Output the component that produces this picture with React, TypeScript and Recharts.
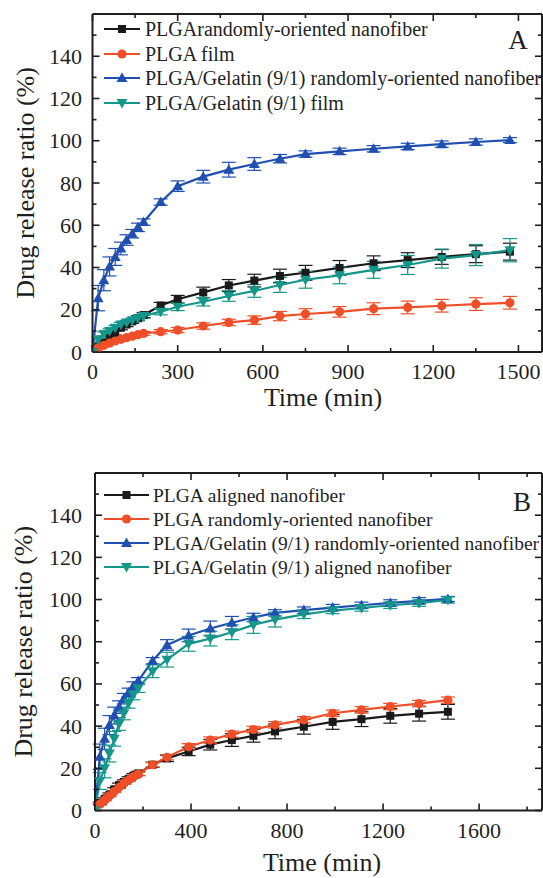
import React from 'react';
import { LineChart, Line, XAxis, YAxis, ErrorBar, Legend } from 'recharts';

const FONT = "'Liberation Serif', 'Times New Roman', serif";
const INK = '#1f1f1f';

// sampling times (min), shared by every curve
const times = [0, 20, 40, 60, 80, 100, 120, 140, 160, 180, 240, 300, 390, 480, 570, 660, 750, 870, 990, 1110, 1230, 1350, 1470];

// Panel A
const aPlgaFiber = [0, 2.5, 4.5, 7, 9, 11.5, 13, 14.5, 16, 17.5, 22, 25, 28.2, 31.5, 33.8, 36, 37.5, 39.8, 42, 43.5, 45, 46.3, 47.5];
const aPlgaFiberErr = [0, 0.5, 0.8, 1, 1, 1, 1, 1, 1.2, 1.2, 1.5, 1.8, 2.5, 2.8, 3, 3.2, 3.5, 3.5, 3.5, 3.5, 3.5, 4, 4];
const aPlgaFilm = [0, 2, 3.2, 4.2, 5.2, 6, 6.8, 7.5, 8.2, 8.8, 9.6, 10.4, 12.3, 14, 15.1, 17, 18, 19, 20.5, 21.1, 21.9, 22.7, 23.3];
const aPlgaFilmErr = [0, 0.5, 0.5, 0.6, 0.6, 0.7, 0.7, 0.8, 0.8, 0.9, 1, 1.2, 1.5, 1.5, 2, 2.2, 2.5, 2.5, 2.8, 3, 3, 3, 3];
const gelFiber = [0, 25.5, 34, 40.5, 45, 49, 53, 56, 59, 61.5, 71, 78.5, 83, 86.3, 89, 91.5, 93.7, 95, 96.2, 97.3, 98.4, 99.4, 100.3];
const gelFiberErr = [0, 6, 5, 4.5, 4, 3, 2.5, 2, 2, 1.5, 1.5, 2.5, 3, 3.5, 3, 2, 1.5, 1.5, 1.5, 1.5, 1.5, 1.5, 1.2];
const aGelFilm = [0, 6, 8.5, 10, 11.5, 13, 14, 15, 16, 17, 19.1, 21.4, 23.8, 26.5, 28.9, 31.7, 34.2, 36.3, 38.9, 41.2, 44.2, 45.9, 48.2];
const aGelFilmErr = [0, 1, 1, 1, 1, 1, 1, 1, 1, 1, 1.5, 1.8, 2, 2.5, 3, 3.5, 4, 4, 4, 4.5, 4.5, 5, 5.5];

// Panel B
const bPlgaAligned = [0, 3.5, 5.5, 7.5, 10, 12, 13.5, 15, 16.5, 17.6, 21.7, 24.7, 28, 31.2, 33.4, 35.4, 37.5, 39.7, 42, 43.3, 44.9, 45.9, 46.8];
const bPlgaAlignedErr = [0, 0.5, 0.5, 0.8, 0.8, 1, 1, 1, 1, 1, 1.2, 1.5, 2, 2.5, 3, 3, 3.5, 3.5, 3.5, 3.5, 3.5, 3.5, 3.5];
const bPlgaRandom = [0, 3, 5, 7, 9, 11, 13, 14.5, 16, 17.3, 21.7, 25.2, 30.2, 33.4, 36.2, 38.4, 40.6, 43, 46.1, 47.7, 49.3, 50.7, 52.3];
const bPlgaRandomErr = [0, 0.5, 0.5, 0.5, 0.5, 0.6, 0.6, 0.7, 0.7, 0.8, 1, 1.2, 1.5, 1.5, 1.5, 1.5, 1.5, 1.5, 1.5, 1.5, 1.5, 1.5, 1.5];
const bGelAligned = [0, 14, 20, 27, 34, 41, 46, 51, 55, 58, 66, 71.5, 79, 81.5, 84.5, 88, 90.5, 93, 94.8, 96, 97.3, 98.3, 99.8];
const bGelAlignedErr = [0, 4, 4.5, 4, 3.5, 3, 3, 2.5, 2.5, 2, 3, 3.5, 3.5, 3.5, 3.5, 4, 3.5, 2, 1.5, 1.5, 1.5, 1.5, 1.5];

// axis ticks
const yTicks = [0, 10, 20, 30, 40, 50, 60, 70, 80, 90, 100, 110, 120, 130, 140, 150];
const aXTicks = [0, 150, 300, 450, 600, 750, 900, 1050, 1200, 1350, 1500];
const bXTicks = [0, 200, 400, 600, 800, 1000, 1200, 1400, 1600, 1800];

const colors = {
  black: '#1a1a1a',
  red: '#ef4f28',
  blue: '#1f4fb0',
  teal: '#14978a',
};

type Shape = 'square' | 'circle' | 'up' | 'down';

interface Series {
  name: string;
  color: string;
  shape: Shape;
  values: number[];
  errs: number[];
}

const seriesA: Series[] = [
  { name: 'PLGArandomly-oriented nanofiber', color: colors.black, shape: 'square', values: aPlgaFiber, errs: aPlgaFiberErr },
  { name: 'PLGA film', color: colors.red, shape: 'circle', values: aPlgaFilm, errs: aPlgaFilmErr },
  { name: 'PLGA/Gelatin (9/1) randomly-oriented nanofiber', color: colors.blue, shape: 'up', values: gelFiber, errs: gelFiberErr },
  { name: 'PLGA/Gelatin (9/1) film', color: colors.teal, shape: 'down', values: aGelFilm, errs: aGelFilmErr },
];

const seriesB: Series[] = [
  { name: 'PLGA aligned nanofiber', color: colors.black, shape: 'square', values: bPlgaAligned, errs: bPlgaAlignedErr },
  { name: 'PLGA randomly-oriented nanofiber', color: colors.red, shape: 'circle', values: bPlgaRandom, errs: bPlgaRandomErr },
  { name: 'PLGA/Gelatin (9/1) randomly-oriented nanofiber', color: colors.blue, shape: 'up', values: gelFiber, errs: gelFiberErr },
  { name: 'PLGA/Gelatin (9/1) aligned nanofiber', color: colors.teal, shape: 'down', values: bGelAligned, errs: bGelAlignedErr },
];

const buildRows = (series: Series[]) =>
  times.map((t, i) => {
    const row: Record<string, number> = { t };
    series.forEach((s, k) => {
      row[`s${k}`] = s.values[i];
      row[`e${k}`] = s.errs[i];
    });
    return row;
  });

const Marker = ({ shape, color, cx, cy }: { shape: Shape; color: string; cx: number; cy: number }) => {
  if (shape === 'square') return <rect x={cx - 4} y={cy - 4} width={8} height={8} fill={color} />;
  if (shape === 'circle') return <circle cx={cx} cy={cy} r={4.6} fill={color} />;
  if (shape === 'up')
    return <polygon points={`${cx},${cy - 5.5} ${cx - 5.5},${cy + 4} ${cx + 5.5},${cy + 4}`} fill={color} />;
  return <polygon points={`${cx},${cy + 5.5} ${cx - 5.5},${cy - 4} ${cx + 5.5},${cy - 4}`} fill={color} />;
};

const dotFor = (shape: Shape, color: string) => (p: any) => {
  if (p.cx == null || p.cy == null) return <g key={p.index} />;
  return (
    <g key={p.index}>
      <Marker shape={shape} color={color} cx={p.cx} cy={p.cy} />
    </g>
  );
};

// ticks drawn pointing inside the frame
const bottomTick = (major: number) => (p: any) => {
  const v = p.payload.value;
  const isMajor = v % major === 0;
  return (
    <g>
      <line x1={p.x} y1={p.y} x2={p.x} y2={p.y - (isMajor ? 7 : 4)} stroke={INK} strokeWidth={1.6} />
      {isMajor && (
        <text x={p.x} y={p.y + 27} textAnchor="middle" fontSize={22} fontFamily={FONT} fill={INK}>
          {v}
        </text>
      )}
    </g>
  );
};

const topTick = (major: number) => (p: any) => {
  const isMajor = p.payload.value % major === 0;
  return <line x1={p.x} y1={p.y} x2={p.x} y2={p.y + (isMajor ? 7 : 4)} stroke={INK} strokeWidth={1.6} />;
};

const leftTick = (gap: number) => (p: any) => {
  const v = p.payload.value;
  const isMajor = v % 20 === 0;
  return (
    <g>
      <line x1={p.x} y1={p.y} x2={p.x + (isMajor ? 7 : 4)} y2={p.y} stroke={INK} strokeWidth={1.6} />
      {isMajor && (
        <text x={p.x - gap} y={p.y + 7.5} textAnchor="end" fontSize={22} fontFamily={FONT} fill={INK}>
          {v}
        </text>
      )}
    </g>
  );
};

const rightTick = (p: any) => {
  const isMajor = p.payload.value % 20 === 0;
  return <line x1={p.x} y1={p.y} x2={p.x - (isMajor ? 7 : 4)} y2={p.y} stroke={INK} strokeWidth={1.6} />;
};

interface PanelProps {
  series: Series[];
  letter: string;
  width: number;
  height: number;
  plot: { top: number; right: number; bottom: number; left: number };
  xMax: number;
  xTicks: number[];
  xMajor: number;
  yGap: number;
  titleX: number;
  titleDy: number;
  yTitleX: number;
  legend: { lineFrom: number; lineTo: number; textX: number; rows: number[]; fontSize: number };
  letterPos: { x: number; y: number };
}

// axes take 1px each; the margins are reduced by that so the frame lands on plot
const AX = 1;

const Panel: React.FC<PanelProps> = (props) => {
  const { series, plot, legend } = props;
  const rows = buildRows(series);
  const axisLine = { stroke: INK, strokeWidth: 2 };
  const margin = {
    top: plot.top - AX,
    right: plot.right - AX,
    bottom: plot.bottom - AX,
    left: plot.left - AX,
  };

  const legendContent = () => (
    <svg width={props.width} height={150} style={{ display: 'block' }}>
      {series.map((s, k) => {
        const cy = legend.rows[k];
        const mid = (legend.lineFrom + legend.lineTo) / 2;
        return (
          <g key={s.name}>
            <line x1={legend.lineFrom} y1={cy} x2={legend.lineTo} y2={cy} stroke={s.color} strokeWidth={2} />
            <Marker shape={s.shape} color={s.color} cx={mid} cy={cy} />
            <text x={legend.textX} y={cy + 6.5} fontSize={legend.fontSize} fontFamily={FONT} fill={INK}>
              {s.name}
            </text>
          </g>
        );
      })}
      <text x={props.letterPos.x} y={props.letterPos.y + 9} textAnchor="middle" fontSize={27} fontFamily={FONT} fill={INK}>
        {props.letter}
      </text>
    </svg>
  );

  return (
    <LineChart width={props.width} height={props.height} data={rows} margin={margin}>
      <XAxis
        dataKey="t"
        type="number"
        domain={[0, props.xMax]}
        ticks={props.xTicks}
        interval={0}
        allowDataOverflow
        height={AX}
        tickSize={0}
        tickMargin={0}
        tickLine={false}
        axisLine={axisLine}
        tick={bottomTick(props.xMajor)}
        label={(lp: any) => (
          <text
            x={props.titleX}
            y={lp.viewBox.y + props.titleDy}
            textAnchor="middle"
            fontSize={26}
            fontFamily={FONT}
            fill={INK}
          >
            Time (min)
          </text>
        )}
      />
      <XAxis
        xAxisId="top"
        orientation="top"
        dataKey="t"
        type="number"
        domain={[0, props.xMax]}
        ticks={props.xTicks}
        interval={0}
        allowDataOverflow
        height={AX}
        tickSize={0}
        tickMargin={0}
        tickLine={false}
        axisLine={axisLine}
        tick={topTick(props.xMajor)}
      />
      <YAxis
        type="number"
        domain={[0, 160]}
        ticks={yTicks}
        interval={0}
        allowDataOverflow
        width={AX}
        tickSize={0}
        tickMargin={0}
        tickLine={false}
        axisLine={axisLine}
        tick={leftTick(props.yGap)}
        label={(lp: any) => {
          const cy = lp.viewBox.y + lp.viewBox.height / 2;
          return (
            <text
              x={props.yTitleX}
              y={cy}
              transform={`rotate(-90 ${props.yTitleX} ${cy})`}
              textAnchor="middle"
              fontSize={26}
              fontFamily={FONT}
              fill={INK}
            >
              Drug release ratio (%)
            </text>
          );
        }}
      />
      <YAxis
        yAxisId="right"
        orientation="right"
        type="number"
        domain={[0, 160]}
        ticks={yTicks}
        interval={0}
        allowDataOverflow
        width={AX}
        tickSize={0}
        tickMargin={0}
        tickLine={false}
        axisLine={axisLine}
        tick={rightTick}
      />
      {series.map((s, k) => (
        <Line
          key={s.name}
          dataKey={`s${k}`}
          name={s.name}
          stroke={s.color}
          strokeWidth={2.2}
          dot={dotFor(s.shape, s.color)}
          activeDot={false}
          isAnimationActive={false}
        >
          <ErrorBar dataKey={`e${k}`} width={7} stroke={s.color} strokeWidth={1.2} direction="y" isAnimationActive={false} />
        </Line>
      ))}
      <Legend
        layout="vertical"
        align="center"
        verticalAlign="middle"
        content={legendContent}
        wrapperStyle={{ left: 0, top: 0, width: props.width, height: 150 }}
      />
    </LineChart>
  );
};

export default function App() {
  return (
    <div style={{ position: 'relative', width: 543, height: 878, background: '#fff' }}>
      <style>{'body { margin: 0; }'}</style>
      <div style={{ position: 'absolute', left: 0, top: 0 }}>
        <Panel
          series={seriesA}
          letter="A"
          width={543}
          height={430}
          plot={{ top: 14, right: 1, bottom: 78, left: 92.5 }}
          xMax={1583}
          xTicks={aXTicks}
          xMajor={300}
          yGap={10.5}
          titleX={323}
          titleDy={54}
          yTitleX={33.5}
          legend={{ lineFrom: 104, lineTo: 140, textX: 145, rows: [29, 54, 78, 103], fontSize: 20 }}
          letterPos={{ x: 518, y: 40 }}
        />
      </div>
      <div style={{ position: 'absolute', left: 0, top: 440 }}>
        <Panel
          series={seriesB}
          letter="B"
          width={543}
          height={438}
          plot={{ top: 33, right: 1, bottom: 67.5, left: 95 }}
          xMax={1862}
          xTicks={bXTicks}
          xMajor={400}
          yGap={13}
          titleX={322}
          titleDy={60}
          yTitleX={32}
          legend={{ lineFrom: 104, lineTo: 149, textX: 153, rows: [55, 79, 103, 127], fontSize: 19.5 }}
          letterPos={{ x: 522, y: 62 }}
        />
      </div>
    </div>
  );
}
